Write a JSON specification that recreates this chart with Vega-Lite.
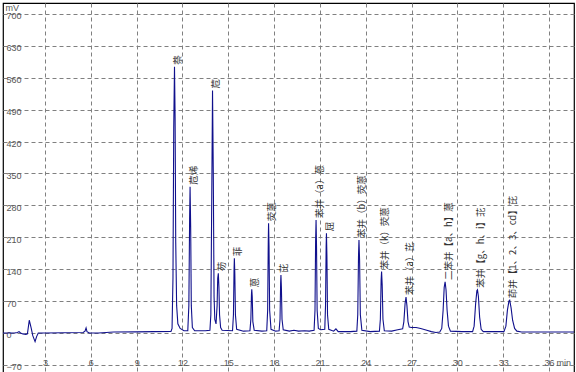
{
  "$schema": "https://vega.github.io/schema/vega-lite/v6.json",
  "autosize": "none",
  "padding": {"left": 3, "top": 3, "right": 2, "bottom": 0},
  "width": 571,
  "height": 371,
  "background": "white",
  "config": {
    "view": {"stroke": "#000000", "strokeWidth": 1.2},
    "axis": {"grid": true, "gridColor": "#808080", "gridDash": [4, 3], "gridWidth": 1, "domain": false, "ticks": false, "labelFont": "Liberation Sans", "labelFontSize": 9, "labelColor": "#555555"}
  },
  "datasets": {
    "signal": [
      {"t": 0.25, "v": 0}, {"t": 1.0, "v": 0}, {"t": 1.2, "v": 1}, {"t": 1.3, "v": 3}, {"t": 1.4, "v": 0},
      {"t": 1.55, "v": -2}, {"t": 1.75, "v": -3}, {"t": 1.85, "v": -2}, {"t": 1.97, "v": 28}, {"t": 2.1, "v": 10},
      {"t": 2.2, "v": -6}, {"t": 2.35, "v": -19}, {"t": 2.45, "v": -8}, {"t": 2.56, "v": 0}, {"t": 3.0, "v": 0},
      {"t": 5.5, "v": 1}, {"t": 5.62, "v": 4}, {"t": 5.69, "v": 11}, {"t": 5.75, "v": 3}, {"t": 5.9, "v": 0},
      {"t": 6.5, "v": 0}, {"t": 7.0, "v": 1}, {"t": 7.5, "v": 2}, {"t": 9.0, "v": 2.5}, {"t": 11.25, "v": 3.5},
      {"t": 11.32, "v": 10}, {"t": 11.38, "v": 120}, {"t": 11.43, "v": 450}, {"t": 11.48, "v": 584}, {"t": 11.52, "v": 470},
      {"t": 11.56, "v": 200}, {"t": 11.62, "v": 60}, {"t": 11.7, "v": 20}, {"t": 11.85, "v": 10}, {"t": 12.1, "v": 5},
      {"t": 12.35, "v": 5}, {"t": 12.42, "v": 60}, {"t": 12.47, "v": 250}, {"t": 12.5, "v": 321}, {"t": 12.54, "v": 230},
      {"t": 12.58, "v": 60}, {"t": 12.65, "v": 12}, {"t": 12.8, "v": 5}, {"t": 13.5, "v": 5},
      {"t": 13.8, "v": 6}, {"t": 13.86, "v": 40}, {"t": 13.92, "v": 300}, {"t": 13.97, "v": 532}, {"t": 14.02, "v": 350},
      {"t": 14.07, "v": 80}, {"t": 14.12, "v": 30}, {"t": 14.2, "v": 20}, {"t": 14.27, "v": 60}, {"t": 14.31, "v": 120},
      {"t": 14.35, "v": 131}, {"t": 14.39, "v": 100}, {"t": 14.43, "v": 40}, {"t": 14.5, "v": 12}, {"t": 14.6, "v": 6},
      {"t": 15.28, "v": 5}, {"t": 15.34, "v": 40}, {"t": 15.38, "v": 140}, {"t": 15.4, "v": 164}, {"t": 15.43, "v": 130},
      {"t": 15.47, "v": 40}, {"t": 15.55, "v": 8}, {"t": 16.0, "v": 4},
      {"t": 16.42, "v": 5}, {"t": 16.48, "v": 30}, {"t": 16.52, "v": 85}, {"t": 16.54, "v": 96}, {"t": 16.57, "v": 80},
      {"t": 16.61, "v": 25}, {"t": 16.7, "v": 6}, {"t": 17.2, "v": 4},
      {"t": 17.52, "v": 5}, {"t": 17.58, "v": 50}, {"t": 17.62, "v": 200}, {"t": 17.64, "v": 241}, {"t": 17.67, "v": 190},
      {"t": 17.71, "v": 50}, {"t": 17.8, "v": 8}, {"t": 18.1, "v": 4},
      {"t": 18.33, "v": 5}, {"t": 18.39, "v": 30}, {"t": 18.43, "v": 110}, {"t": 18.45, "v": 127}, {"t": 18.48, "v": 100},
      {"t": 18.52, "v": 30}, {"t": 18.6, "v": 7}, {"t": 19.0, "v": 4}, {"t": 19.3, "v": 6}, {"t": 19.6, "v": 4},
      {"t": 20.0, "v": 5}, {"t": 20.3, "v": 4},
      {"t": 20.62, "v": 6}, {"t": 20.68, "v": 50}, {"t": 20.72, "v": 200}, {"t": 20.75, "v": 248}, {"t": 20.78, "v": 190},
      {"t": 20.82, "v": 50}, {"t": 20.9, "v": 10}, {"t": 21.05, "v": 7},
      {"t": 21.32, "v": 8}, {"t": 21.37, "v": 60}, {"t": 21.41, "v": 190}, {"t": 21.43, "v": 219}, {"t": 21.46, "v": 170},
      {"t": 21.5, "v": 40}, {"t": 21.58, "v": 8}, {"t": 21.9, "v": 4}, {"t": 22.05, "v": 9}, {"t": 22.2, "v": 3},
      {"t": 22.6, "v": 3}, {"t": 23.0, "v": 3},
      {"t": 23.42, "v": 4}, {"t": 23.48, "v": 40}, {"t": 23.53, "v": 170}, {"t": 23.56, "v": 204}, {"t": 23.6, "v": 160},
      {"t": 23.65, "v": 40}, {"t": 23.75, "v": 6}, {"t": 24.3, "v": 3},
      {"t": 24.9, "v": 4}, {"t": 24.96, "v": 30}, {"t": 25.01, "v": 115}, {"t": 25.04, "v": 135}, {"t": 25.08, "v": 105},
      {"t": 25.13, "v": 30}, {"t": 25.22, "v": 5}, {"t": 25.7, "v": 4}, {"t": 26.1, "v": 7},
      {"t": 26.42, "v": 9}, {"t": 26.5, "v": 25}, {"t": 26.58, "v": 65}, {"t": 26.64, "v": 79}, {"t": 26.7, "v": 60},
      {"t": 26.77, "v": 25}, {"t": 26.85, "v": 13}, {"t": 27.0, "v": 12}, {"t": 27.3, "v": 12}, {"t": 27.6, "v": 10},
      {"t": 28.0, "v": 6}, {"t": 28.3, "v": 3}, {"t": 28.6, "v": 1},
      {"t": 28.85, "v": 2}, {"t": 28.98, "v": 10}, {"t": 29.07, "v": 50}, {"t": 29.14, "v": 100}, {"t": 29.2, "v": 112},
      {"t": 29.26, "v": 95}, {"t": 29.33, "v": 50}, {"t": 29.42, "v": 15}, {"t": 29.55, "v": 4}, {"t": 30.3, "v": 3},
      {"t": 31.0, "v": 3}, {"t": 31.1, "v": 15}, {"t": 31.2, "v": 65}, {"t": 31.28, "v": 93}, {"t": 31.32, "v": 95},
      {"t": 31.38, "v": 80}, {"t": 31.46, "v": 35}, {"t": 31.56, "v": 8}, {"t": 31.7, "v": 3}, {"t": 32.5, "v": 3},
      {"t": 33.05, "v": 3}, {"t": 33.18, "v": 15}, {"t": 33.28, "v": 50}, {"t": 33.38, "v": 70}, {"t": 33.43, "v": 72},
      {"t": 33.52, "v": 55}, {"t": 33.62, "v": 28}, {"t": 33.75, "v": 10}, {"t": 33.9, "v": 4}, {"t": 34.2, "v": 2},
      {"t": 35.0, "v": 2}, {"t": 37.64, "v": 2}
    ],
    "labels": [
      {"t": 11.48, "v": 584, "name": "萘"},
      {"t": 12.5, "v": 321, "name": "苊烯"},
      {"t": 13.97, "v": 532, "name": "苊"},
      {"t": 14.35, "v": 131, "name": "芴"},
      {"t": 15.4, "v": 164, "name": "菲"},
      {"t": 16.54, "v": 96, "name": "蒽"},
      {"t": 17.64, "v": 241, "name": "荧蒽"},
      {"t": 18.45, "v": 127, "name": "芘"},
      {"t": 20.75, "v": 248, "name": "苯并（a）蒽"},
      {"t": 21.43, "v": 219, "name": "屈"},
      {"t": 23.56, "v": 204, "name": "苯并（b）荧蒽"},
      {"t": 25.04, "v": 135, "name": "苯并（k）荧蒽"},
      {"t": 26.64, "v": 79, "name": "苯并（a）芘"},
      {"t": 29.2, "v": 112, "name": "二苯并【a、h】蒽"},
      {"t": 31.32, "v": 95, "name": "苯并【g、h、i】苝"},
      {"t": 33.43, "v": 72, "name": "茚并【1、2、3、cd】芘"}
    ]
  },
  "layer": [
    {
      "data": {"name": "signal"},
      "mark": {"type": "line", "color": "#10108c", "strokeWidth": 1.1, "clip": true},
      "encoding": {
        "x": {"field": "t", "type": "quantitative", "scale": {"domain": [0.25, 37.64], "nice": false, "zero": false},
          "axis": {"values": [3, 6, 9, 12, 15, 18, 21, 24, 27, 30, 33, 36], "tickCount": 30, "labelOverlap": false, "labelBaseline": "middle", "labelPadding": -12,
            "title": "min", "titleFont": "Liberation Sans", "titleFontSize": 9, "titleFontWeight": "normal", "titleColor": "#555555",
            "titleX": 553, "titleY": -12, "titleAlign": "left", "titleBaseline": "middle"}},
        "y": {"field": "v", "type": "quantitative", "scale": {"domain": [-90, 724], "nice": false, "zero": false},
          "axis": {"values": [-70, 0, 70, 140, 210, 280, 350, 420, 490, 560, 630, 700], "tickCount": 30, "labelOverlap": false, "labelBound": false, "labelAlign": "left", "labelBaseline": "middle", "labelPadding": -3, "labelOffset": 2,
            "title": "mV", "titleFont": "Liberation Sans", "titleFontSize": 9, "titleFontWeight": "normal", "titleColor": "#555555",
            "titleAngle": 0, "titleX": 2, "titleY": 4, "titleAlign": "left", "titleBaseline": "middle"}}
      }
    },
    {
      "data": {"name": "labels"},
      "mark": {"type": "text", "angle": 270, "align": "left", "baseline": "middle", "dx": 2, "dy": 3.5, "font": "Noto Sans CJK SC", "fontSize": 9.5, "color": "#333333"},
      "encoding": {
        "x": {"field": "t", "type": "quantitative"},
        "y": {"field": "v", "type": "quantitative"},
        "text": {"field": "name"}
      }
    }
  ]
}
